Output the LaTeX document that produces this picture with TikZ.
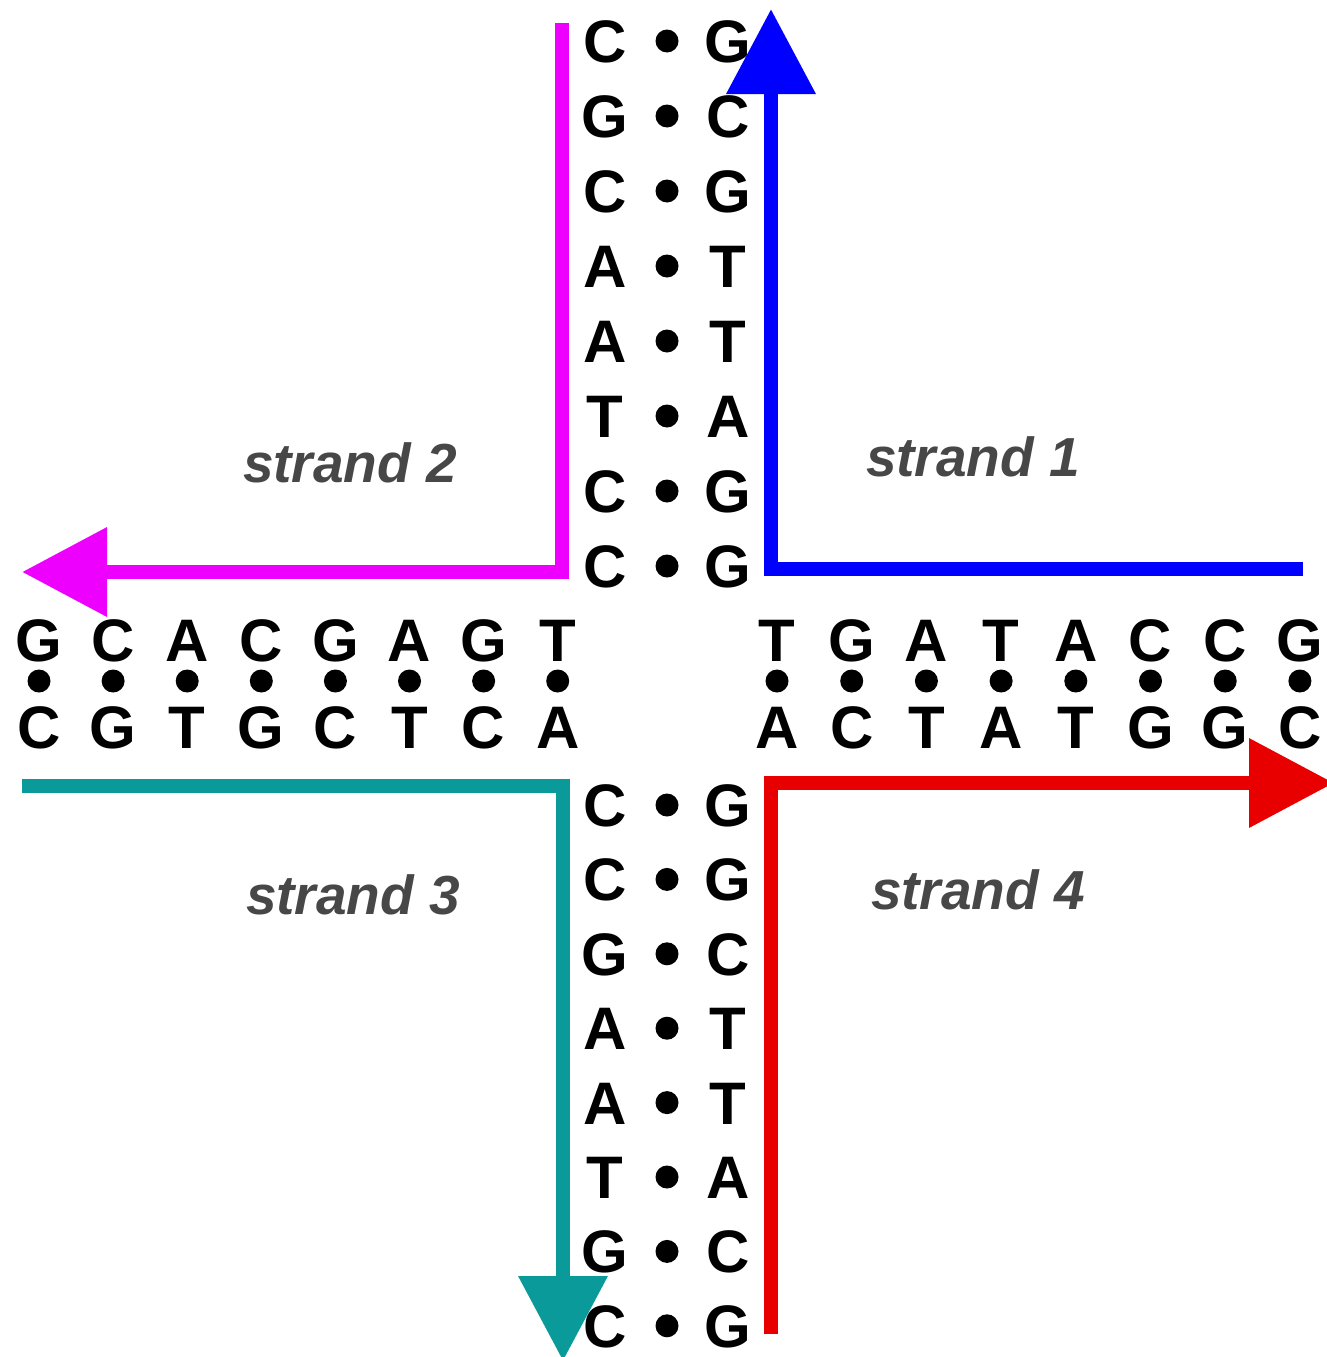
\documentclass[tikz,border=0pt]{standalone}
\usepackage{fontspec}
\setmainfont{Liberation Sans}
\usetikzlibrary{arrows.meta}
\definecolor{strandmag}{HTML}{EE00FF}
\definecolor{strandblue}{HTML}{0000FF}
\definecolor{strandred}{HTML}{E80000}
\definecolor{strandteal}{HTML}{0A9A9A}
\definecolor{labelgray}{HTML}{474747}
\begin{document}
\begin{tikzpicture}[x=1pt,y=-1pt,
  nt/.style={inner sep=0pt, text height=43pt, text depth=0pt, font=\fontsize{60}{60}\selectfont\bfseries},
  pairdot/.style={circle, fill=black, inner sep=0pt, minimum size=23pt},
  strandarrow/.style={line width=14pt, line join=miter, -{Triangle[length=85pt,width=86pt]}},
  strandplain/.style={line width=14pt, line join=miter},
  strandlabel/.style={inner sep=0pt, font=\fontsize{55}{55}\selectfont\bfseries\itshape, text=labelgray}
]
\useasboundingbox (0,0) rectangle (1326,1357);

% top column
\foreach \l/\r [count=\i from 0] in {C/G,G/C,C/G,A/T,A/T,T/A,C/G,C/G} {
  \node[nt] (tl\i) at (605,{41+75*\i}) {\l};
  \node[pairdot] (td\i) at (667,{41+75*\i}) {};
  \node[nt] (tr\i) at (728,{41+75*\i}) {\r};
}
% bottom column
\foreach \l/\r [count=\i from 0] in {C/G,C/G,G/C,A/T,A/T,T/A,G/C,C/G} {
  \node[nt] (bl\i) at (605,{805+74.4*\i}) {\l};
  \node[pairdot] (bd\i) at (667,{805+74.4*\i}) {};
  \node[nt] (br\i) at (728,{805+74.4*\i}) {\r};
}
% left row
\foreach \u/\d [count=\i from 0] in {G/C,C/G,A/T,C/G,G/C,A/T,G/C,T/A} {
  \node[nt] (lu\i) at ({39+74.1*\i},640) {\u};
  \node[pairdot] (ld\i) at ({39+74.1*\i},681) {};
  \node[nt] (lb\i) at ({39+74.1*\i},727) {\d};
}
% right row
\foreach \u/\d [count=\i from 0] in {T/A,G/C,A/T,T/A,A/T,C/G,C/G,G/C} {
  \node[nt] (ru\i) at ({777+74.7*\i},640) {\u};
  \node[pairdot] (rd\i) at ({777+74.7*\i},681) {};
  \node[nt] (rb\i) at ({777+74.7*\i},727) {\d};
}

% strands
\coordinate (m0) at (562,23);
\coordinate (mc) at (562,572);
\coordinate (m1) at (22,572);
\draw[strandmag, strandarrow] (m0) -- (mc) -- (m1);

\coordinate (b0) at (1303,569);
\coordinate (bc) at (771,569);
\coordinate (b1) at (771,9);
\draw[strandblue, strandarrow] (b0) -- (bc) -- (b1);

\coordinate (r0) at (771,1334);
\coordinate (rc) at (771,783);
\coordinate (r1) at (1334,783);
\draw[strandred, strandarrow] (r0) -- (rc) -- (r1);

\coordinate (t0) at (22,786);
\coordinate (tc) at (563,786);
\coordinate (t1) at (563,1361);
\draw[strandteal, strandarrow] (t0) -- (tc) -- (t1);

% labels
\node[strandlabel] (s2) at (350,463) {strand 2};
\node[strandlabel] (s1) at (973,457) {strand 1};
\node[strandlabel] (s3) at (353,895) {strand 3};
\node[strandlabel] (s4) at (978,890) {strand 4};
\end{tikzpicture}
\end{document}
